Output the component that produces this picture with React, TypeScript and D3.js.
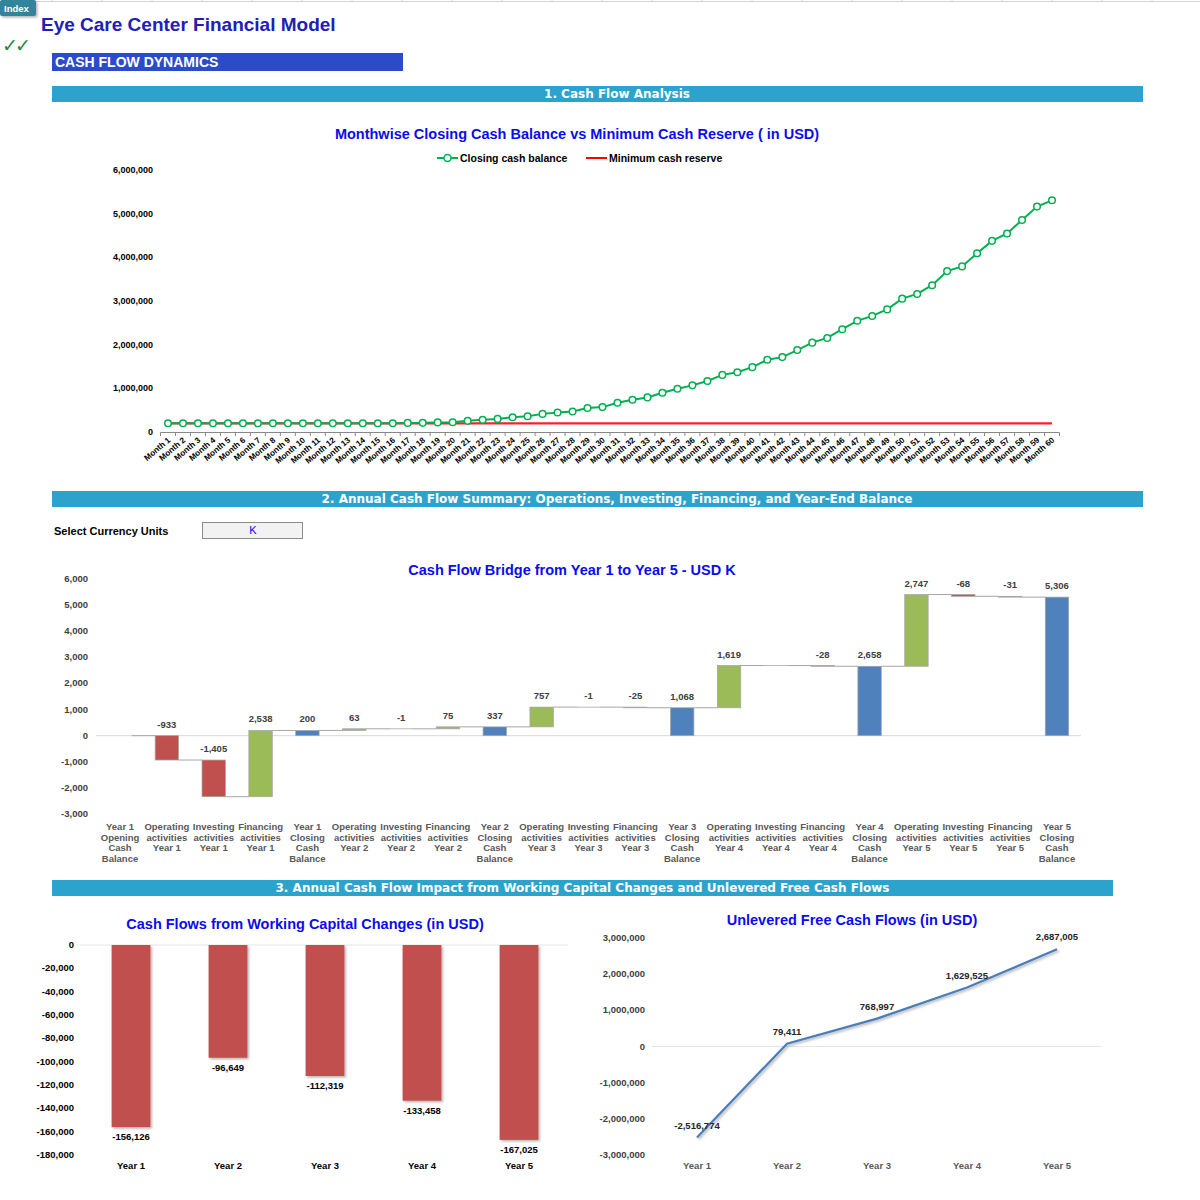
import React from 'react';
import * as d3 from 'd3';

// ─── data ───────────────────────────────────────────────────

const closingCash = [
  200000, 200000, 200000, 200000, 200000, 200000, 200000, 200000, 200000, 200000,
  200000, 200000, 200000, 200000, 200000, 200000, 208000, 210000, 220000, 225000,
  255000, 278000, 300000, 337000, 360000, 415000, 446000, 470000, 550000, 570000,
  669000, 738000, 792000, 900000, 992000, 1068000, 1169000, 1308000, 1369000, 1485000,
  1654000, 1715000, 1877000, 2046000, 2154000, 2354000, 2546000, 2658000, 2808000, 3054000,
  3162000, 3362000, 3685000, 3792000, 4092000, 4377000, 4546000, 4854000, 5162000, 5306000,
];
const minCashReserve = 200000;
const monthTicks = [0, 1000000, 2000000, 3000000, 4000000, 5000000, 6000000];

const bridgeCats = [
  ['Year 1', 'Opening', 'Cash', 'Balance'],
  ['Operating', 'activities', 'Year 1'],
  ['Investing', 'activities', 'Year 1'],
  ['Financing', 'activities', 'Year 1'],
  ['Year 1', 'Closing', 'Cash', 'Balance'],
  ['Operating', 'activities', 'Year 2'],
  ['Investing', 'activities', 'Year 2'],
  ['Financing', 'activities', 'Year 2'],
  ['Year 2', 'Closing', 'Cash', 'Balance'],
  ['Operating', 'activities', 'Year 3'],
  ['Investing', 'activities', 'Year 3'],
  ['Financing', 'activities', 'Year 3'],
  ['Year 3', 'Closing', 'Cash', 'Balance'],
  ['Operating', 'activities', 'Year 4'],
  ['Investing', 'activities', 'Year 4'],
  ['Financing', 'activities', 'Year 4'],
  ['Year 4', 'Closing', 'Cash', 'Balance'],
  ['Operating', 'activities', 'Year 5'],
  ['Investing', 'activities', 'Year 5'],
  ['Financing', 'activities', 'Year 5'],
  ['Year 5', 'Closing', 'Cash', 'Balance'],
];
const bridgeValues = [0, -933, -1405, 2538, 200, 63, -1, 75, 337, 757, -1, -25, 1068, 1619, -1, -28, 2658, 2747, -68, -31, 5306];
const bridgeIsTotal = [true, false, false, false, true, false, false, false, true, false, false, false, true, false, false, false, true, false, false, false, true];
const bridgeShowLabel = [false, true, true, true, true, true, true, true, true, true, true, true, true, true, false, true, true, true, true, true, true];
const bridgeTicks = [-3000, -2000, -1000, 0, 1000, 2000, 3000, 4000, 5000, 6000];

const years = ['Year 1', 'Year 2', 'Year 3', 'Year 4', 'Year 5'];
const wcChanges = [-156126, -96649, -112319, -133458, -167025];
const wcTicks = [0, -20000, -40000, -60000, -80000, -100000, -120000, -140000, -160000, -180000];
const ufcf = [-2516774, 79411, 768997, 1629525, 2687005];
const ufcfTicks = [-3000000, -2000000, -1000000, 0, 1000000, 2000000, 3000000];

// ─── styles ─────────────────────────────────────────────────

const FONT = "'Liberation Sans', Arial, sans-serif";
const WIDE = "'DejaVu Sans', Verdana, sans-serif";
const TITLE_BLUE = '#0b0bf0';
const SECTION = '#2ba3cc';
const fmt = d3.formatLocale({ decimal: '.', thousands: ',', grouping: [3], currency: ['$', ''], minus: '-' }).format(',');

// ─── helpers ────────────────────────────────────────────────

const SectionBar: React.FC<{ x: number; y: number; w: number; text: string; tx?: number }> = ({ x, y, w, text, tx }) => (
  <g>
    <rect x={x} y={y} width={w} height={16} fill={SECTION} />
    <text x={tx ?? x + w / 2} y={y + 12} fill="#fff" fontSize={12} fontWeight="bold" fontFamily={WIDE} textAnchor="middle">{text}</text>
  </g>
);

// ─── chart 1: monthly closing cash ─────────────────────────

const MonthlyChart: React.FC = () => {
  const x = d3.scaleBand<number>().domain(d3.range(closingCash.length)).range([160.5, 1059.5]);
  const y = d3.scaleLinear().domain([0, 6000000]).range([432, 170]);
  const cx = (i: number) => (x(i) ?? 0) + x.bandwidth() / 2;
  const line = d3.line<number>().x((_, i) => cx(i)).y(d => y(d));

  return (
    <g>
      <text x={577} y={139} fill={TITLE_BLUE} fontSize={14.5} fontWeight="bold" textAnchor="middle">
        Monthwise Closing Cash Balance vs Minimum Cash Reserve ( in USD)
      </text>
      {/* legend */}
      <line x1={437} x2={458} y1={158} y2={158} stroke="#00b050" strokeWidth={2} />
      <circle cx={447.5} cy={158} r={3.5} fill="#fff" stroke="#00b050" strokeWidth={1.5} />
      <text x={460} y={162} fontSize={10.5} fontWeight="bold">Closing cash balance</text>
      <line x1={586} x2={607} y1={158} y2={158} stroke="#ff0000" strokeWidth={2} />
      <text x={609} y={162} fontSize={10.5} fontWeight="bold">Minimum cash reserve</text>

      {monthTicks.map(t => (
        <text key={t} x={153} y={y(t) + 3} fontSize={9} fontWeight="bold" textAnchor="end">{fmt(t)}</text>
      ))}

      {/* axis */}
      <line x1={160.5} x2={1059.5} y1={432.5} y2={432.5} stroke="#888" />
      {closingCash.map((_, i) => (
        <line key={i} x1={(x(i) ?? 0)} x2={(x(i) ?? 0)} y1={432.5} y2={436} stroke="#888" />
      ))}
      <line x1={1059.5} x2={1059.5} y1={432.5} y2={436} stroke="#888" />
      {closingCash.map((_, i) => (
        <text key={i} transform={`translate(${cx(i) + 3},${441}) rotate(-40)`} fontSize={8.2} fontWeight="bold" textAnchor="end">
          {`Month ${i + 1}`}
        </text>
      ))}

      <line x1={cx(0)} x2={cx(closingCash.length - 1)} y1={y(minCashReserve)} y2={y(minCashReserve)} stroke="#ff2020" strokeWidth={2.25} />
      <path d={line(closingCash) ?? ''} fill="none" stroke="#00b050" strokeWidth={2} />
      {closingCash.map((v, i) => (
        <circle key={i} cx={cx(i)} cy={y(v)} r={3.3} fill="#fff" stroke="#00b050" strokeWidth={1.5} />
      ))}
    </g>
  );
};

// ─── chart 2: waterfall bridge ─────────────────────────────

const BridgeChart: React.FC = () => {
  const x = d3.scaleBand<number>().domain(d3.range(bridgeValues.length)).range([96.6, 1080.4]).paddingInner(0.5).paddingOuter(0.25);
  const y = d3.scaleLinear().domain([-3000, 6000]).range([814, 579]);

  let running = 0;
  const steps = bridgeValues.map((v, i) => {
    let start: number, end: number;
    if (bridgeIsTotal[i]) { start = 0; end = v; } else { start = running; end = running + v; }
    running = end;
    const color = bridgeIsTotal[i] ? '#4f81bd' : v >= 0 ? '#9bbb59' : '#c0504d';
    return { start, end, v, color };
  });

  const bw = x.bandwidth();
  const center = (i: number) => (x(i) ?? 0) + bw / 2;

  return (
    <g>
      <text x={572} y={575} fill={TITLE_BLUE} fontSize={14.5} fontWeight="bold" textAnchor="middle">
        Cash Flow Bridge from Year 1 to Year 5 - USD K
      </text>
      {bridgeTicks.map(t => (
        <text key={t} x={88} y={y(t) + 3} fontSize={9.5} fontWeight="bold" fill="#404040" textAnchor="end">{fmt(t)}</text>
      ))}
      <line x1={96} x2={1081} y1={y(0)} y2={y(0)} stroke="#d9d9d9" />

      {steps.map((s, i) => i < steps.length - 1 && (
        <line key={`c${i}`} x1={center(i) + bw / 2} x2={center(i + 1) - bw / 2} y1={y(s.end)} y2={y(s.end)} stroke="#a6a6a6" strokeWidth={1} />
      ))}
      {steps.map((s, i) => (
        <rect key={i} x={center(i) - bw / 2} width={bw}
          y={y(Math.max(s.start, s.end))}
          height={Math.abs(y(s.start) - y(s.end))}
          fill={s.color} stroke="#a6a6a6" strokeWidth={0.75} />
      ))}
      {steps.map((s, i) => bridgeShowLabel[i] && (
        <text key={`l${i}`} x={center(i)} y={y(Math.max(s.start, s.end)) - 8} fontSize={9.5} fontWeight="bold" fill="#404040" textAnchor="middle">
          {fmt(s.v)}
        </text>
      ))}
      {bridgeCats.map((lines, i) => (
        <text key={`x${i}`} x={center(i)} y={830} fontSize={9.5} fontWeight="bold" fill="#595959" textAnchor="middle">
          {lines.map((l, j) => <tspan key={j} x={center(i)} dy={j === 0 ? 0 : 10.6}>{l}</tspan>)}
        </text>
      ))}
    </g>
  );
};

// ─── chart 3: working capital changes ──────────────────────

const WCChart: React.FC = () => {
  const x = d3.scaleBand().domain(years).range([82.5, 567.5]).paddingInner(0.6).paddingOuter(0.3);
  const y = d3.scaleLinear().domain([-180000, 0]).range([1155, 945]);
  const cx = (yr: string) => (x(yr) ?? 0) + x.bandwidth() / 2;
  return (
    <g>
      <text x={305} y={929} fill={TITLE_BLUE} fontSize={14.5} fontWeight="bold" textAnchor="middle">
        Cash Flows from Working Capital Changes (in USD)
      </text>
      {wcTicks.map(t => (
        <text key={t} x={74} y={y(t) + 3} fontSize={9.5} fontWeight="bold" textAnchor="end">{fmt(t)}</text>
      ))}
      <line x1={80} x2={568} y1={y(0)} y2={y(0)} stroke="#e6e6e6" />
      {wcChanges.map((v, i) => (
        <g key={i}>
          <rect x={x(years[i])} y={y(0)} width={x.bandwidth()} height={y(v) - y(0)} fill="#c0504d" filter="url(#shadow)" />
          <text x={cx(years[i])} y={y(v) + 13} fontSize={9.5} fontWeight="bold" textAnchor="middle">{fmt(v)}</text>
          <text x={cx(years[i])} y={1169} fontSize={9.5} fontWeight="bold" textAnchor="middle">{years[i]}</text>
        </g>
      ))}
    </g>
  );
};

// ─── chart 4: unlevered FCF ────────────────────────────────

const UFCFChart: React.FC = () => {
  const x = d3.scalePoint().domain(years).range([697, 1057]);
  const y = d3.scaleLinear().domain([-3000000, 3000000]).range([1155, 938]);
  const line = d3.line<number>().x((_, i) => x(years[i]) ?? 0).y(d => y(d));
  return (
    <g>
      <text x={852} y={925} fill={TITLE_BLUE} fontSize={14.5} fontWeight="bold" textAnchor="middle">
        Unlevered Free Cash Flows (in USD)
      </text>
      {ufcfTicks.map(t => (
        <text key={t} x={645} y={y(t) + 3} fontSize={9.5} fontWeight="bold" fill="#404040" textAnchor="end">{fmt(t)}</text>
      ))}
      <line x1={652} x2={1102} y1={y(0)} y2={y(0)} stroke="#e6e6e6" />
      <path d={line(ufcf) ?? ''} fill="none" stroke="#4a7ebb" strokeWidth={2.25} filter="url(#shadow)" />
      {ufcf.map((v, i) => (
        <text key={i} x={x(years[i])} y={y(v) - 9} fontSize={9.5} fontWeight="bold" fill="#262626" textAnchor="middle">{fmt(v)}</text>
      ))}
      {years.map(yr => (
        <text key={yr} x={x(yr)} y={1169} fontSize={9.5} fontWeight="bold" fill="#595959" textAnchor="middle">{yr}</text>
      ))}
    </g>
  );
};

// ─── page ──────────────────────────────────────────────────

export default function App() {
  return (
    <svg width={1200} height={1200} style={{ position: 'absolute', left: 0, top: 0, background: '#fff' }} fontFamily={FONT}>
      <defs>
        <filter id="shadow" x="-20%" y="-20%" width="140%" height="140%">
          <feDropShadow dx={1.5} dy={1.5} stdDeviation={1.2} floodColor="#000" floodOpacity={0.3} />
        </filter>
      </defs>

      {/* sheet top edge */}
      <line x1={0} x2={1200} y1={1.5} y2={1.5} stroke="#d4d4d4" />
      {d3.range(52, 1200, 50).map(t => (
        <line key={t} x1={t} x2={t} y1={0} y2={2} stroke="#d4d4d4" />
      ))}

      {/* index button */}
      <rect x={0} y={0} width={36} height={16} rx={2} fill="#31849b" filter="url(#shadow)" />
      <text x={4} y={12} fill="#fff" fontSize={9.5} fontWeight="bold">Index</text>

      <text x={41} y={31} fill="#2020b8" fontSize={19} fontWeight="bold">Eye Care Center Financial Model</text>
      <text x={2} y={52} fill="#238a45" fontSize={19} fontFamily={WIDE} letterSpacing={-3}>✓✓</text>

      <rect x={52} y={53} width={351} height={18} fill="#2b4bcb" />
      <text x={55} y={67} fill="#fff" fontSize={14} fontWeight="bold">CASH FLOW DYNAMICS</text>

      <SectionBar x={52} y={86} w={1091} tx={617} text="1. Cash Flow Analysis" />
      <MonthlyChart />

      <SectionBar x={52} y={491} w={1091} tx={617} text="2. Annual Cash Flow Summary: Operations, Investing, Financing, and Year-End Balance" />
      <text x={54} y={535} fontSize={11} fontWeight="bold">Select Currency Units</text>
      <rect x={202.5} y={522.5} width={100} height={16} fill="#f2f2f2" stroke="#8c8c8c" />
      <text x={253} y={534} fontSize={11} fill="#0b0bf0" textAnchor="middle">K</text>
      <BridgeChart />

      <SectionBar x={52} y={880} w={1061} text="3. Annual Cash Flow Impact from Working Capital Changes and Unlevered Free Cash Flows" />
      <WCChart />
      <UFCFChart />
    </svg>
  );
}
